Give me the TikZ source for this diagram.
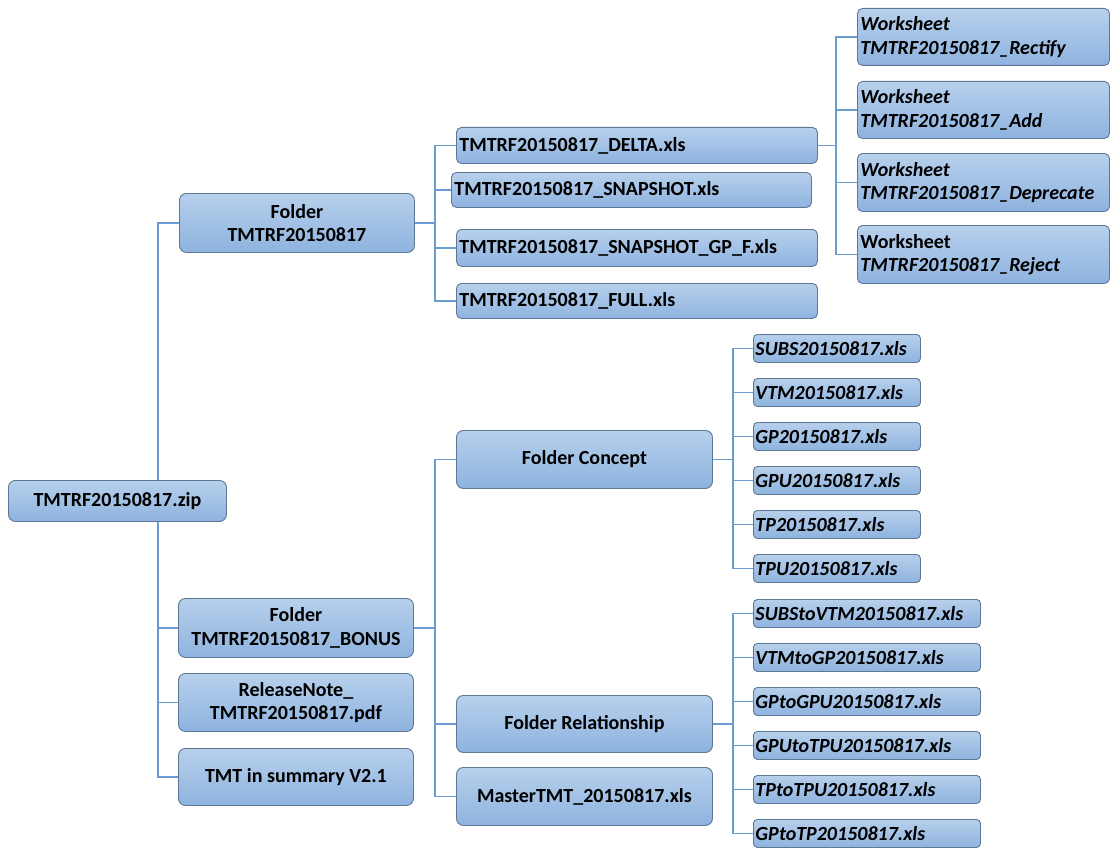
\documentclass[tikz,border=0pt]{standalone}
\usepackage{fontspec}
\setmainfont{Carlito}
\definecolor{boxtop}{HTML}{B7D0EC}
\definecolor{boxbot}{HTML}{8EB3DF}
\definecolor{boxline}{HTML}{5E7894}
\definecolor{linkcol}{HTML}{6C9BD2}
\tikzset{
    box/.style={draw=boxline, line width=0.9pt, rounded corners=7pt, top color=boxtop, bottom color=boxbot,
        anchor=north west, inner sep=0pt, font=\fontsize{20}{23.5}\selectfont\bfseries, align=center},
    leftbox/.style={box, align=left, inner xsep=3pt, rounded corners=5pt},
    link/.style={draw=linkcol, line width=1.9pt}
}
\begin{document}
\begin{tikzpicture}[x=1pt, y=-1pt]
    \useasboundingbox (0,0) rectangle (1110,848);
    % first level
    \node[box, minimum width=218pt, minimum height=41pt] (zip) at (8,480) {TMTRF20150817.zip};
    \node[box, minimum width=235pt, minimum height=59pt] (folder) at (179,193) {Folder\\TMTRF20150817};
    \node[box, minimum width=235pt, minimum height=59pt] (bonus) at (178,598) {Folder\\TMTRF20150817\_BONUS};
    \node[box, minimum width=235pt, minimum height=58pt] (release) at (178,673) {ReleaseNote\_\\TMTRF20150817.pdf};
    \node[box, minimum width=235pt, minimum height=57pt] (summary) at (178,748) {TMT in summary V2.1};
    % folder TMTRF20150817
    \node[leftbox, text width=355pt, minimum height=36pt] (delta) at (456,127) {TMTRF20150817\_DELTA.xls};
    \node[leftbox, text width=354pt, minimum height=35pt] (snap) at (451,172) {TMTRF20150817\_SNAPSHOT.xls};
    \node[leftbox, text width=355pt, minimum height=37pt] (snapgp) at (456,229) {TMTRF20150817\_SNAPSHOT\_GP\_F.xls};
    \node[leftbox, text width=355pt, minimum height=35pt] (full) at (456,283) {TMTRF20150817\_FULL.xls};
    % worksheets
    \node[leftbox, text width=246pt, minimum height=57pt] (rectify) at (857,8) {\itshape Worksheet\\\itshape TMTRF20150817\_Rectify};
    \node[leftbox, text width=246pt, minimum height=57pt] (add) at (857,81) {\itshape Worksheet\\\itshape TMTRF20150817\_Add};
    \node[leftbox, text width=246pt, minimum height=58pt] (deprecate) at (857,153) {\itshape Worksheet\\\itshape TMTRF20150817\_Deprecate};
    \node[leftbox, text width=246pt, minimum height=58pt] (reject) at (857,225) {Worksheet\\\itshape TMTRF20150817\_Reject};
    % folder BONUS
    \node[box, minimum width=256pt, minimum height=58pt] (concept) at (456,430) {Folder Concept};
    \node[box, minimum width=256pt, minimum height=57pt] (relation) at (456,695) {Folder Relationship};
    \node[box, minimum width=256pt, minimum height=58pt] (master) at (456,767) {MasterTMT\_20150817.xls};
    % concept files
    \foreach \name [count=\i from 0] in {SUBS,VTM,GP,GPU,TP,TPU}
        \node[leftbox, text width=163pt, minimum height=28pt, inner xsep=2pt, rounded corners=4pt] (c\i) at (753,334+44*\i) {\itshape\name20150817.xls};
    % relationship files
    \foreach \name [count=\i from 0] in {SUBStoVTM,VTMtoGP,GPtoGPU,GPUtoTPU,TPtoTPU,GPtoTP}
        \node[leftbox, text width=223pt, minimum height=28pt, inner xsep=2pt, rounded corners=4pt] (r\i) at (753,599+44*\i) {\itshape\name20150817.xls};
    % trunks
    \coordinate (t0) at (158,0);
    \coordinate (t1) at (435,0);
    \coordinate (t2) at (836,0);
    \coordinate (t3) at (733,0);
    \draw[link] (zip.north -| t0) |- (folder.west);
    \foreach \c in {bonus,release,summary}
        \draw[link] (zip.south -| t0) |- (\c.west);
    \foreach \c in {delta,snap,snapgp,full}
        \draw[link] (folder.east) -- (folder.east -| t1) |- (\c.west);
    \foreach \c in {rectify,add,deprecate,reject}
        \draw[link] (delta.east) -- (delta.east -| t2) |- (\c.west);
    \foreach \c in {concept,relation,master}
        \draw[link] (bonus.east) -- (bonus.east -| t1) |- (\c.west);
    \foreach \i in {0,...,5}
        \draw[link] (concept.east) -- (concept.east -| t3) |- (c\i.west);
    \foreach \i in {0,...,5}
        \draw[link] (relation.east) -- (relation.east -| t3) |- (r\i.west);
\end{tikzpicture}
\end{document}
